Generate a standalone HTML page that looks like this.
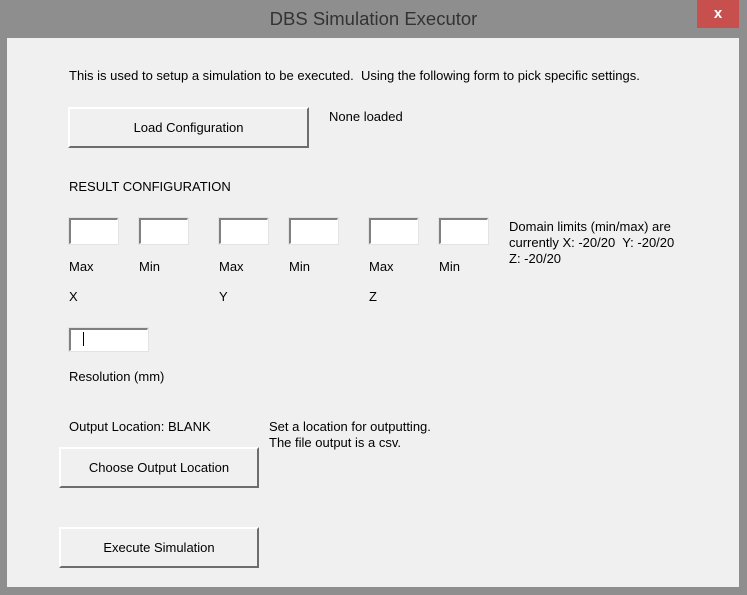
<!DOCTYPE html>
<html><head><style>
body{margin:0;width:747px;height:595px;background:#8e8e8e;font-family:"Liberation Sans",sans-serif;font-size:13px;color:#000;position:relative;overflow:hidden}
.a{position:absolute;white-space:nowrap}
.client{position:absolute;left:7px;top:38px;width:732px;height:549px;background:#f0f0f0}
.tb{position:absolute;width:49px;height:26px;background:#fff;border-top:2px solid #808080;border-left:2px solid #808080;border-right:1px solid #fff;border-bottom:1px solid #fff;box-sizing:border-box;outline:1px solid #e3e3e3}
.btn{position:absolute;background:#f0f0f0;border-top:2px solid #fff;border-left:2px solid #fff;border-right:2px solid #6d6d6d;border-bottom:2px solid #6d6d6d;box-sizing:border-box;text-align:center;font-size:13px}
</style></head><body>
<div class="a" style="left:0;top:8px;width:747px;text-align:center;font-size:18.5px;color:#333">DBS Simulation Executor</div>
<div class="a" style="left:697px;top:0;width:42px;height:28px;background:#c7504f;color:#fff;font-size:15px;font-weight:bold;text-align:center;line-height:28px">x</div>
<div class="client"></div>
<div class="a" style="left:69px;top:68px">This is used to setup a simulation to be executed.&nbsp; Using the following form to pick specific settings.</div>
<div class="btn" style="left:68px;top:107px;width:241px;height:41px;line-height:38px">Load Configuration</div>
<div class="a" style="left:329px;top:109px">None loaded</div>
<div class="a" style="left:69px;top:179px">RESULT CONFIGURATION</div>
<div class="tb" style="left:69px;top:218px"></div>
<div class="tb" style="left:139px;top:218px"></div>
<div class="tb" style="left:219px;top:218px"></div>
<div class="tb" style="left:289px;top:218px"></div>
<div class="tb" style="left:369px;top:218px"></div>
<div class="tb" style="left:439px;top:218px"></div>
<div class="a" style="left:509px;top:219px;line-height:16px">Domain limits (min/max) are<br>currently X: -20/20&nbsp; Y: -20/20<br>Z: -20/20</div>
<div class="a" style="left:69px;top:259px">Max</div>
<div class="a" style="left:139px;top:259px">Min</div>
<div class="a" style="left:219px;top:259px">Max</div>
<div class="a" style="left:289px;top:259px">Min</div>
<div class="a" style="left:369px;top:259px">Max</div>
<div class="a" style="left:439px;top:259px">Min</div>
<div class="a" style="left:69px;top:289px">X</div>
<div class="a" style="left:219px;top:289px">Y</div>
<div class="a" style="left:369px;top:289px">Z</div>
<div class="tb" style="left:69px;top:328px;width:79px;height:23px"></div>
<div class="a" style="left:83px;top:332px;width:1px;height:14px;background:#000"></div>
<div class="a" style="left:69px;top:369px">Resolution (mm)</div>
<div class="a" style="left:69px;top:419px">Output Location: BLANK</div>
<div class="a" style="left:269px;top:419px;line-height:16px">Set a location for outputting.<br>The file output is a csv.</div>
<div class="btn" style="left:59px;top:447px;width:200px;height:41px;line-height:38px">Choose Output Location</div>
<div class="btn" style="left:59px;top:527px;width:200px;height:41px;line-height:38px">Execute Simulation</div>
</body></html>
